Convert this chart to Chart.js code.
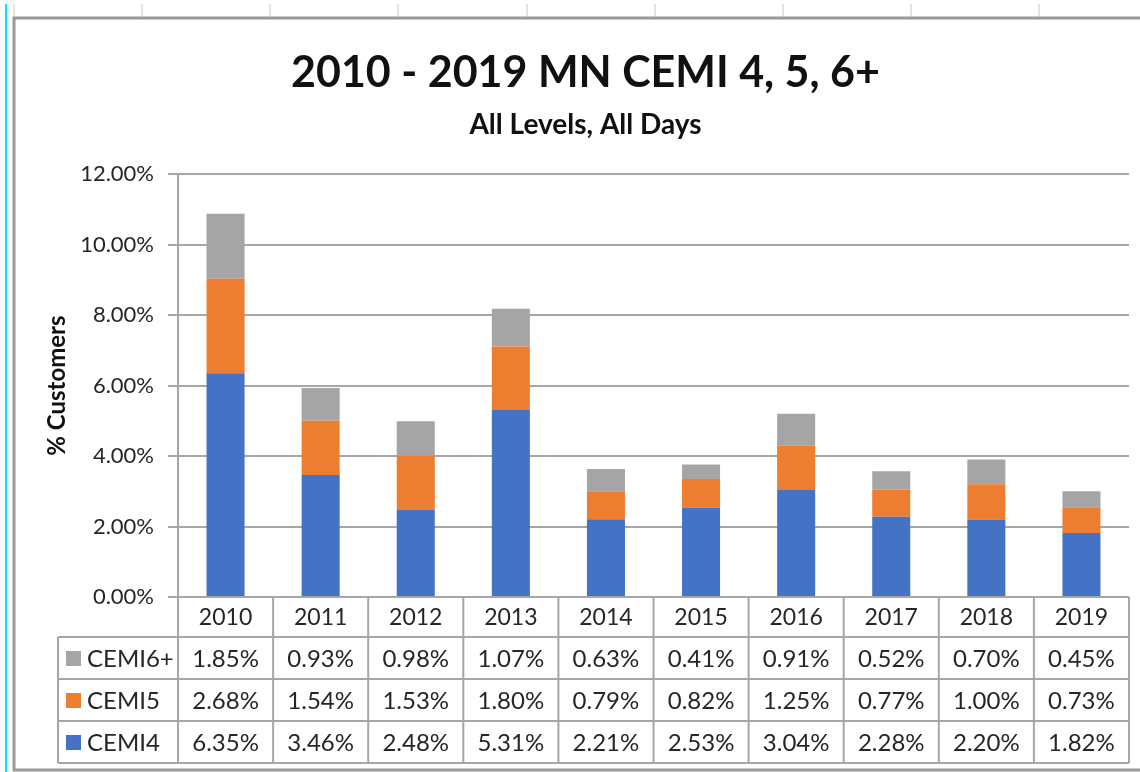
<!DOCTYPE html>
<html>
<head>
<meta charset="utf-8">
<script src="https://cdn.jsdelivr.net/npm/chart.js@4"></script>
<style>
  body { margin: 0; background: #fff; }
  #chart { display: block; }
</style>
</head>
<body>
<canvas id="chart" width="1140" height="772"></canvas>
<script>
// values (percent of customers)
const years = ['2010', '2011', '2012', '2013', '2014', '2015', '2016', '2017', '2018', '2019'];
const cemi4 = [6.35, 3.46, 2.48, 5.31, 2.21, 2.53, 3.04, 2.28, 2.20, 1.82];
const cemi5 = [2.68, 1.54, 1.53, 1.80, 0.79, 0.82, 1.25, 0.77, 1.00, 0.73];
const cemi6 = [1.85, 0.93, 0.98, 1.07, 0.63, 0.41, 0.91, 0.52, 0.70, 0.45];
const yTicks = [0, 2, 4, 6, 8, 10, 12];

const FONT = 'Lato, "Liberation Sans", sans-serif';
const LINE = '#a6a6a6';
const TEXT = '#262626';

// spreadsheet bits around the chart object + chart frame
const sheetFrame = {
  id: 'sheetFrame',
  beforeDraw(chart) {
    const c = chart.ctx;
    c.save();
    c.fillStyle = '#fff';
    c.fillRect(0, 0, chart.width, chart.height);
    c.strokeStyle = '#e3e3e3';
    c.lineWidth = 2;
    [14, 142, 270, 398, 527, 655, 783, 911, 1039].forEach(x => {
      c.beginPath(); c.moveTo(x, 4); c.lineTo(x, 17); c.stroke();
    });
    c.strokeStyle = '#00e5ff';
    c.lineWidth = 2;
    c.beginPath(); c.moveTo(6, 4); c.lineTo(6, chart.height); c.stroke();
    c.strokeStyle = '#9a9a9a';
    c.lineWidth = 3;
    c.beginPath();
    c.moveTo(chart.width, 18); c.lineTo(14, 18); c.lineTo(14, 770); c.lineTo(chart.width, 770);
    c.stroke();
    c.restore();
  }
};

// Excel-style data table below the plot, built from the same arrays
const dataTable = {
  id: 'dataTable',
  afterDraw(chart) {
    const c = chart.ctx;
    const x = chart.scales.x;
    const area = chart.chartArea;
    const step = x.getPixelForValue(1) - x.getPixelForValue(0);
    const right = area.right;
    const top = area.bottom;
    const headH = 40, rowH = 42;
    const labelLeft = 58;
    const rows = [
      { name: 'CEMI6+', color: '#a5a5a5', vals: cemi6 },
      { name: 'CEMI5', color: '#ed7d31', vals: cemi5 },
      { name: 'CEMI4', color: '#4472c4', vals: cemi4 }
    ];
    const bottom = top + headH + rowH * rows.length;

    c.save();
    c.strokeStyle = LINE;
    c.lineWidth = 2;
    // vertical lines
    for (let i = 0; i <= years.length; i++) {
      const px = x.getPixelForValue(i) - step / 2;
      c.beginPath(); c.moveTo(px, top); c.lineTo(px, bottom); c.stroke();
    }
    c.beginPath(); c.moveTo(labelLeft, top + headH); c.lineTo(labelLeft, bottom); c.stroke();
    // horizontal lines
    for (let r = 0; r <= rows.length; r++) {
      const py = top + headH + r * rowH;
      c.beginPath(); c.moveTo(labelLeft, py); c.lineTo(right, py); c.stroke();
    }

    c.fillStyle = TEXT;
    c.font = '23px ' + FONT;
    c.textAlign = 'center';
    c.textBaseline = 'middle';
    years.forEach((y, i) => {
      c.fillText(y, x.getPixelForValue(i), top + headH / 2 + 1);
    });
    rows.forEach((row, r) => {
      const cy = top + headH + r * rowH + rowH / 2 + 1;
      c.font = '24px ' + FONT;
      row.vals.forEach((v, i) => {
        c.fillStyle = TEXT;
        c.textAlign = 'center';
        c.fillText(v.toFixed(2) + '%', x.getPixelForValue(i), cy);
      });
      c.fillStyle = row.color;
      c.fillRect(66, cy - 8, 15, 15);
      c.fillStyle = TEXT;
      c.textAlign = 'left';
      c.font = '24px ' + FONT;
      c.fillText(row.name, 87, cy);
    });
    c.restore();
  }
};

const ctx = document.getElementById('chart').getContext('2d');
new Chart(ctx, {
  type: 'bar',
  data: {
    labels: years,
    datasets: [
      { label: 'CEMI4', data: cemi4, backgroundColor: '#4472c4' },
      { label: 'CEMI5', data: cemi5, backgroundColor: '#ed7d31' },
      { label: 'CEMI6+', data: cemi6, backgroundColor: '#a5a5a5' }
    ]
  },
  options: {
    responsive: false,
    animation: false,
    layout: { padding: { top: 0, left: 42, right: 11, bottom: 9 } },
    datasets: { bar: { categoryPercentage: 1, barPercentage: 0.4 } },
    plugins: {
      legend: { display: false },
      tooltip: { enabled: false },
      title: {
        display: true,
        text: '2010 - 2019 MN CEMI 4, 5, 6+',
        color: '#111',
        font: { family: FONT, size: 43, weight: 'bold' },
        padding: { top: 47, bottom: 0 }
      },
      subtitle: {
        display: true,
        text: 'All Levels, All Days',
        color: '#111',
        font: { family: FONT, size: 28, weight: 'bold' },
        padding: { top: 10, bottom: 32 }
      }
    },
    scales: {
      x: {
        stacked: true,
        grid: { display: false },
        border: { display: false },
        ticks: { display: false },
        afterFit(scale) { scale.height = 166; }
      },
      y: {
        stacked: true,
        min: 0,
        max: 12,
        afterBuildTicks(scale) { scale.ticks = yTicks.map(v => ({ value: v })); },
        ticks: {
          color: TEXT,
          padding: 14,
          font: { family: FONT, size: 22 },
          callback: v => v.toFixed(2) + '%'
        },
        grid: { color: LINE, lineWidth: 2, tickLength: 10 },
        border: { display: true, color: LINE, width: 2 },
        title: {
          display: true,
          text: '% Customers',
          color: '#111',
          font: { family: FONT, size: 24, weight: 'bold' },
          padding: { top: 1, bottom: 0 }
        },
        afterFit(scale) { scale.width = 136; }
      }
    }
  },
  plugins: [sheetFrame, dataTable]
});
</script>
</body>
</html>
